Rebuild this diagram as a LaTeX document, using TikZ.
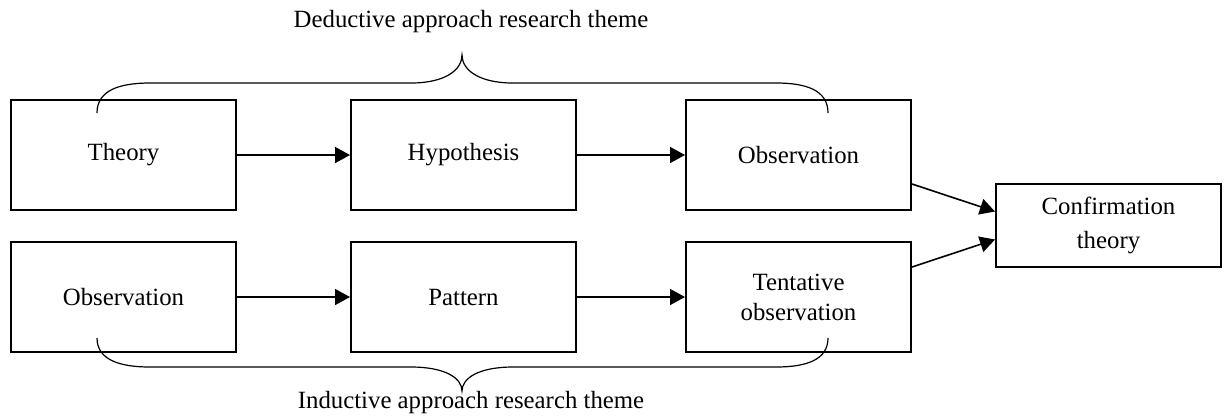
\documentclass[tikz,border=0pt]{standalone}
\usepackage{fontspec}
\setmainfont{Liberation Serif}
\usepackage{tikz}
\usetikzlibrary{arrows.meta}
\usetikzlibrary{positioning}

\begin{document}
\begin{tikzpicture}[x=0.5pt, y=-0.5pt, font=\fontsize{12.4}{15}\selectfont,
    box/.style={draw, line width=1pt, minimum width=112.5pt, minimum height=55pt, align=center},
    flow/.style={-{Triangle[length=7.5pt, width=8pt]}, line width=0.8pt},
    brace/.style={line width=0.6pt},
    node distance=15pt and 56.5pt]
    \useasboundingbox (0,0) rectangle (1229,419);
    \node[box] (theory) at (123.5,155) {Theory};
    \node[box, right=of theory] (hypo) {Hypothesis};
    \node[box, right=54pt of hypo] (obs1) {Observation};
    \node[box, below=of theory] (obs2) {Observation};
    \node[box, right=of obs2] (pattern) {Pattern};
    \node[box, right=54pt of pattern] (tent) {Tentative\\observation};
    \node[box, minimum height=41.5pt, font=\fontsize{12.4}{17}\selectfont] (conf) at (1108.5,225.5) {Confirmation\\theory};
    \draw[flow] (theory) -- (hypo);
    \draw[flow] (hypo) -- (obs1);
    \draw[flow] (obs2) -- (pattern);
    \draw[flow] (pattern) -- (tent);
    \draw[flow] ([yshift=-14.5pt]obs1.east) -- ([yshift=7pt]conf.west);
    \draw[flow] ([yshift=15pt]tent.east) -- ([yshift=-7pt]conf.west);
    % deductive
    \coordinate (dl) at (97,113);
    \coordinate (dtip) at (462,55);
    \coordinate (dr) at (828,113);
    \draw[brace] (dl) .. controls (97,90) and (120,83) .. (150,83) -- (411,83)
        .. controls (445,83) and (462,70) .. (dtip)
        .. controls (462,70) and (479,83) .. (513,83) -- (776,83)
        .. controls (806,83) and (828,90) .. (dr);
    \node (deduct) at (471,22) {Deductive approach research theme};
    % inductive
    \coordinate (il) at (97,338);
    \coordinate (itip) at (462,391);
    \coordinate (ir) at (828,338);
    \draw[brace] (il) .. controls (97,360) and (120,367) .. (150,367) -- (411,367)
        .. controls (445,367) and (462,378) .. (itip)
        .. controls (462,378) and (479,367) .. (513,367) -- (776,367)
        .. controls (806,367) and (828,360) .. (ir);
    \node (induct) at (471,403) {Inductive approach research theme};
\end{tikzpicture}
\end{document}
